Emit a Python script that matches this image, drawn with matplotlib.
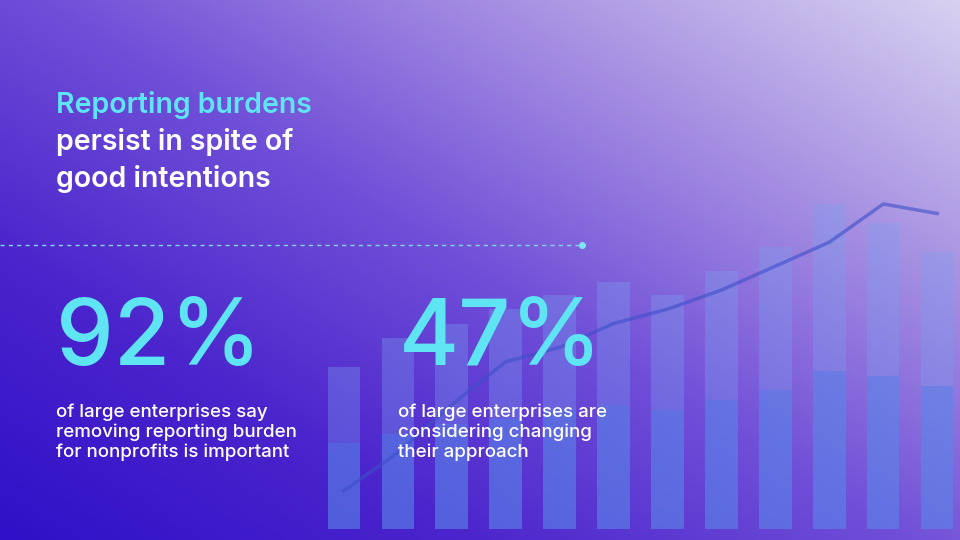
import numpy as np
import matplotlib
matplotlib.use("Agg")
import matplotlib.pyplot as plt
from matplotlib.colors import LinearSegmentedColormap

plt.rcParams["font.family"] = ["Inter", "DejaVu Sans"]

# decorative background chart (rough)
bg_months = list(range(1, 13))
bg_totals = [170, 200, 215, 230, 245, 258, 245, 270, 295, 340, 320, 290]
bg_lower = [90, 100, 110, 115, 125, 130, 125, 135, 145, 165, 160, 150]
bg_trend = [40, 80, 130, 175, 190, 215, 230, 250, 275, 300, 340, 330]

headline = ["Reporting burdens", "persist in spite of", "good intentions"]
stats = ["92%", "47%"]
captions = [
    "of large enterprises say\nremoving reporting burden\nfor nonprofits is important",
    "of large enterprises are\nconsidering changing\ntheir approach",
]

fig = plt.figure(figsize=(9.6, 5.4), dpi=100)

# gradient background
bg = fig.add_axes([0, 0, 1, 1])
xx, yy = np.meshgrid(np.linspace(0, 1, 300), np.linspace(0, 1, 200))
t = np.clip(0.5 * xx + 0.45 * yy, 0, 1)
cmap = LinearSegmentedColormap.from_list(
    "bg", ["#3010c8", "#4a24cc", "#7050d8", "#a690e2", "#d8d0f0"])
bg.imshow(t, cmap=cmap, origin="lower", extent=[0, 1, 0, 1], aspect="auto")
bg.set_xlim(0, 1); bg.set_ylim(0, 1); bg.axis("off")

# faint bar chart
ax = fig.add_axes([0.33, 0.02, 0.68, 0.62])
ax.bar(bg_months, bg_totals, width=0.6, color="#7aa0f0", alpha=0.35)
ax.bar(bg_months, bg_lower, width=0.6, color="#4a7ae6", alpha=0.4)
ax.plot(bg_months, bg_trend, color="#3d4fc8", lw=2.5, alpha=0.6)
ax.set_xlim(0.5, 12.6); ax.set_ylim(0, 350)
ax.axis("off")

# headline
y0 = 0.805
for i, line in enumerate(headline):
    fig.text(0.058, y0 - i * 0.0685, line, color="#5fe4f4" if i == 0 else "white",
             fontsize=20.5, fontweight="semibold", va="center")

# dashed separator
fig.add_artist(plt.Line2D([0, 0.603], [0.547, 0.547], color="#7fd8f0",
                          lw=1, ls=(0, (3, 3))))
fig.add_artist(plt.Line2D([0.606], [0.547], marker="o", ms=4, color="#7fe4f4"))

for xpos, s, cap in zip([0.058, 0.415], stats, captions):
    fig.text(xpos, 0.325, s, color="#5fe4f4", fontsize=66, fontweight="medium",
             va="baseline")
    fig.text(xpos, 0.2, cap, color="white", fontsize=13.5, fontweight="medium",
             va="center", linespacing=1.2)

fig.savefig("out.png", dpi=100)
